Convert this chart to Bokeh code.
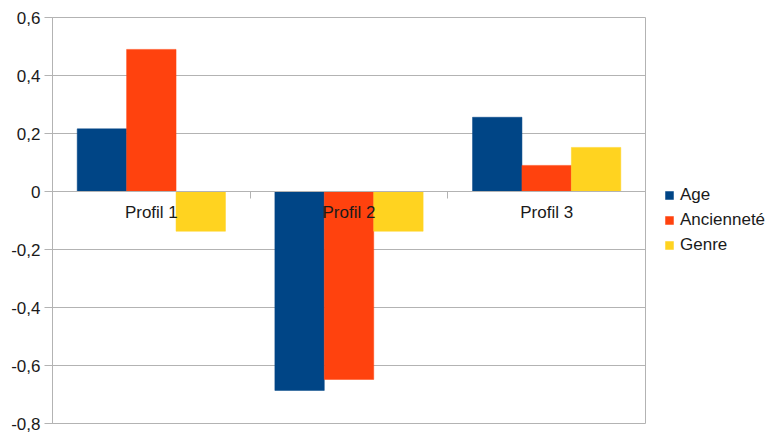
from bokeh.plotting import figure
from bokeh.models import (ColumnDataSource, Range1d, FixedTicker, Legend, LegendItem,
                          LinearAxis, Grid)
from bokeh.transform import dodge
from bokeh.embed import file_html
from bokeh.resources import INLINE

categories = ["Profil 1", "Profil 2", "Profil 3"]
age = [0.216, -0.686, 0.256]
anciennete = [0.490, -0.648, 0.090]
genre = [-0.137, -0.137, 0.152]
series_names = ["Age", "Ancienneté", "Genre"]
colors = ["#004586", "#ff420e", "#ffd320"]
y_ticks = [-0.8, -0.6, -0.4, -0.2, 0, 0.2, 0.4, 0.6]
y_tick_labels = ["-0,8", "-0,6", "-0,4", "-0,2", "0", "0,2", "0,4", "0,6"]

FONT = "Liberation Sans"
FONT_SIZE = "17px"
TEXT = "#1a1a1a"
GRID = "#b3b3b3"

FW, FH = 593, 406
ML, MT, MB, MR = 52, 17, 11, 122

xc = [i + 0.5 for i in range(len(categories))]
source = ColumnDataSource(dict(x=xc, cat=categories, age=age, anc=anciennete, genre=genre))

p = figure(frame_width=FW, frame_height=FH, output_backend="svg", toolbar_location=None,
           x_range=Range1d(0, len(categories)), y_range=Range1d(y_ticks[0], y_ticks[-1]),
           x_axis_location=None, y_axis_location=None,
           min_border_left=ML, min_border_top=MT, min_border_bottom=MB, min_border_right=MR)
p.outline_line_color = GRID
p.background_fill_color = "white"
p.border_fill_color = "white"
p.grid.visible = False

yaxis = LinearAxis(ticker=FixedTicker(ticks=y_ticks),
                   major_label_overrides=dict(zip(y_ticks, y_tick_labels)),
                   major_tick_out=8, major_tick_in=0, minor_tick_out=0, minor_tick_in=0,
                   axis_line_color=GRID, major_tick_line_color=GRID,
                   major_label_standoff=4, major_label_text_font=FONT,
                   major_label_text_font_size=FONT_SIZE, major_label_text_color=TEXT)
p.add_layout(yaxis, "left")
p.add_layout(Grid(dimension=1, ticker=yaxis.ticker, grid_line_color=GRID))

xaxis = LinearAxis(fixed_location=0,
                   ticker=FixedTicker(ticks=xc, minor_ticks=list(range(len(categories) + 1))),
                   major_label_overrides=dict(zip(xc, categories)),
                   major_tick_out=0, major_tick_in=0, major_tick_line_color=None,
                   minor_tick_out=7, minor_tick_in=0, minor_tick_line_color=GRID,
                   axis_line_color=GRID, major_label_standoff=4,
                   major_label_text_font=FONT, major_label_text_font_size=FONT_SIZE,
                   major_label_text_color=TEXT)
p.add_layout(xaxis, "below")

fields = ["age", "anc", "genre"]
offsets = [-0.25, 0.0, 0.25]
renderers = []
for f, off, col in zip(fields, offsets, colors):
    r = p.vbar(x=dodge("x", off, range=p.x_range), bottom=0, top=f, width=0.25,
               source=source, fill_color=col, line_color=col, line_width=0.5)
    renderers.append(r)

xaxis.level = "overlay"

legend = Legend(items=[LegendItem(label=n, renderers=[r]) for n, r in zip(series_names, renderers)],
                location="center_left", padding=0, margin=19, spacing=5,
                glyph_width=10, glyph_height=10, label_height=20, label_standoff=6,
                label_text_font=FONT, label_text_font_size=FONT_SIZE, label_text_color=TEXT,
                border_line_color=None, background_fill_alpha=0)
p.add_layout(legend, "right")

open("out.html", "w").write(file_html(p, INLINE))
